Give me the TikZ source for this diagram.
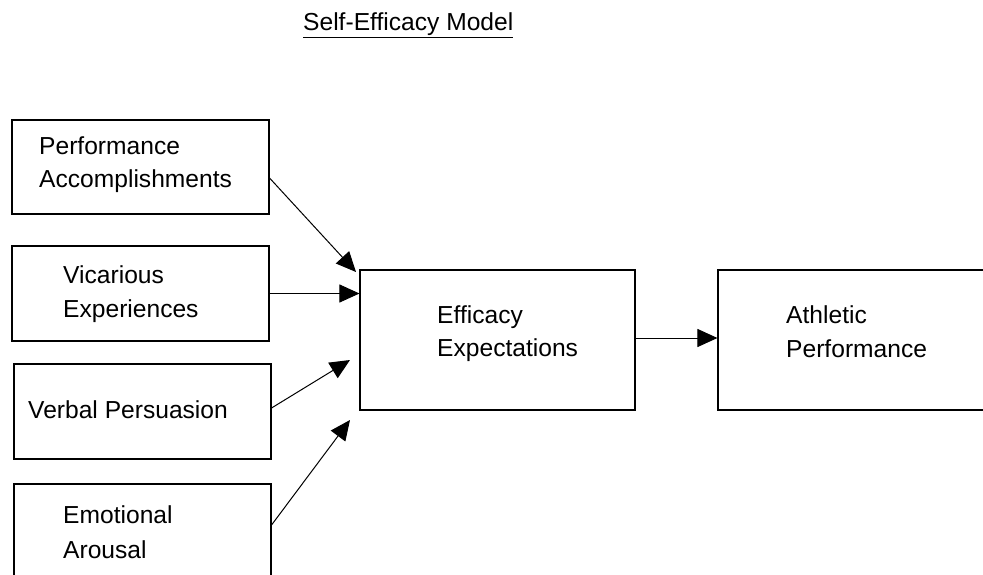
\documentclass[tikz,border=0pt]{standalone}
\usepackage{fontspec}
\setmainfont{Liberation Sans}
\usetikzlibrary{arrows.meta}
\begin{document}
\begin{tikzpicture}[x=1pt,y=-1pt,
  box/.style={draw=black,line width=1.1pt,minimum width=#1,inner sep=0pt},
  lbl/.style={anchor=base west,inner sep=0pt,font=\fontsize{24.6}{28}\selectfont},
  conn/.style={line width=1pt,-{Triangle[length=20pt,width=18pt]}}]
\useasboundingbox[fill=white] (0,0) rectangle (983,575);
% title
\node[lbl] (title) at (303,31) {\underline{Self-Efficacy Model}};
% boxes
\node[box=257pt,minimum height=94pt] (b1) at (140.5,167) {};
\node[box=257pt,minimum height=95pt] (b2) at (140.5,293.5) {};
\node[box=257pt,minimum height=95pt] (b3) at (142.5,411.5) {};
\node[box=257pt,minimum height=95pt] (b4) at (142.5,531.5) {};
\node[box=275pt,minimum height=140pt] (e) at (497.5,340) {};
\node[box=275pt,minimum height=140pt] (a) at (855.5,340) {};
% texts
\node[lbl] (t1a) at (39,155) {Performance};
\node[lbl] (t1b) at (39,188) {Accomplishments};
\node[lbl] (t2a) at (63,283) {Vicarious};
\node[lbl] (t2b) at (63,317) {Experiences};
\node[lbl] (t3a) at (28,418) {Verbal Persuasion};
\node[lbl] (t4a) at (63,523) {Emotional};
\node[lbl] (t4b) at (63,558) {Arousal};
\node[lbl] (tea) at (437,323) {Efficacy};
\node[lbl] (teb) at (437,356) {Expectations};
\node[lbl] (taa) at (786,323) {Athletic};
\node[lbl] (tab) at (786,357) {Performance};
% arrow tips
\coordinate (p1) at (356,272);
\coordinate (p3) at (350,360);
\coordinate (p4) at (350,420);
% connectors
\draw[conn] ([yshift=-11pt]b1.east) -- (p1);
\draw[conn] (b2.east) -- (b2.east -| e.west);
\draw[conn] ([yshift=3.5pt]b3.east) -- (p3);
\draw[conn] ([yshift=6.5pt]b4.east) -- (p4);
\draw[conn] ([yshift=2pt]e.east) -- ([yshift=2pt]a.west);
\end{tikzpicture}
\end{document}
